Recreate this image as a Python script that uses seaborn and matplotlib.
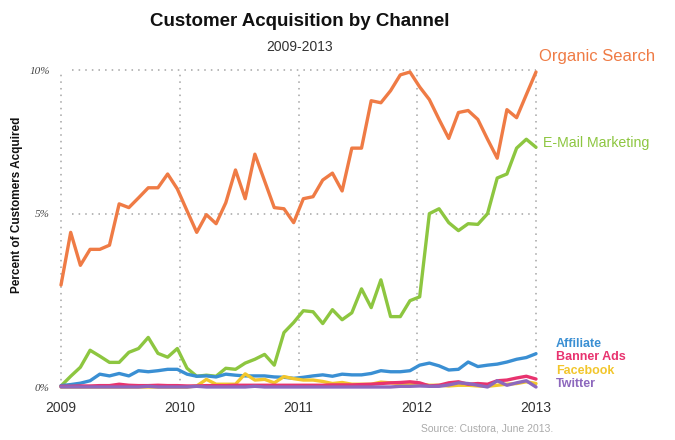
import numpy as np
import pandas as pd
import matplotlib
matplotlib.use("Agg")
import matplotlib.pyplot as plt
import seaborn as sns

sns.set_theme(style="white")
plt.rcParams['font.family'] = ['Liberation Sans', 'DejaVu Sans']

# data, 50 roughly monthly points from 2009 to 2013 (percent)
organic_search = [2.94, 4.46, 3.51, 3.97, 3.97, 4.09, 5.34, 5.21, 5.55, 5.90,
                  5.90, 6.38, 5.86, 5.10, 4.46, 4.97, 4.71, 5.38, 6.52, 5.52,
                  7.07, 6.14, 5.21, 5.17, 4.74, 5.52, 5.59, 6.17, 6.41, 5.79,
                  7.28, 7.28, 8.93, 8.86, 9.28, 9.83, 9.93, 9.41, 8.97, 8.28,
                  7.62, 8.52, 8.59, 8.28, 7.59, 6.93, 8.62, 8.34, 9.14, 9.93]
email_marketing = [0.03, 0.31, 0.57, 1.06, 0.89, 0.71, 0.71, 1.00, 1.11, 1.43,
                   0.97, 0.86, 1.11, 0.54, 0.31, 0.34, 0.31, 0.54, 0.51, 0.69,
                   0.80, 0.94, 0.63, 1.57, 1.86, 2.20, 2.17, 1.83, 2.23, 1.94,
                   2.14, 2.83, 2.29, 3.09, 2.03, 2.03, 2.49, 2.60, 5.00, 5.17,
                   4.74, 4.51, 4.71, 4.69, 5.00, 6.24, 6.38, 7.28, 7.59, 7.31]
affiliate = [0.04, 0.07, 0.11, 0.18, 0.37, 0.32, 0.39, 0.32, 0.47, 0.44,
             0.47, 0.51, 0.51, 0.37, 0.31, 0.32, 0.29, 0.37, 0.34, 0.32,
             0.32, 0.32, 0.29, 0.28, 0.25, 0.28, 0.32, 0.35, 0.31, 0.37,
             0.35, 0.35, 0.39, 0.47, 0.44, 0.44, 0.47, 0.63, 0.69, 0.61,
             0.49, 0.51, 0.72, 0.59, 0.63, 0.66, 0.72, 0.80, 0.85, 0.96]
banner_ads = [0.02, 0.02, 0.03, 0.03, 0.04, 0.04, 0.08, 0.05, 0.04, 0.04,
              0.05, 0.04, 0.04, 0.03, 0.03, 0.04, 0.04, 0.04, 0.05, 0.05,
              0.05, 0.05, 0.05, 0.05, 0.05, 0.05, 0.05, 0.05, 0.06, 0.06,
              0.06, 0.07, 0.08, 0.10, 0.12, 0.13, 0.15, 0.12, 0.03, 0.05,
              0.12, 0.15, 0.08, 0.10, 0.08, 0.18, 0.20, 0.26, 0.31, 0.23]
facebook = [0.00, 0.00, 0.00, 0.00, 0.00, 0.00, 0.00, 0.00, 0.00, 0.00,
            0.00, 0.00, 0.00, 0.00, 0.03, 0.22, 0.08, 0.08, 0.08, 0.38,
            0.20, 0.22, 0.12, 0.30, 0.24, 0.20, 0.20, 0.16, 0.10, 0.13,
            0.08, 0.08, 0.08, 0.14, 0.12, 0.10, 0.10, 0.08, 0.05, 0.05,
            0.03, 0.05, 0.05, 0.03, 0.02, 0.05, 0.08, 0.10, 0.15, 0.10]
twitter = [0.00, 0.00, 0.00, 0.00, 0.00, 0.00, 0.00, 0.00, 0.00, 0.02,
           0.00, 0.00, 0.00, 0.00, 0.02, 0.00, 0.00, 0.00, 0.00, 0.00,
           0.02, 0.00, 0.00, 0.00, 0.00, 0.00, 0.00, 0.00, 0.00, 0.00,
           0.00, 0.00, 0.00, 0.00, 0.00, 0.02, 0.02, 0.03, 0.02, 0.02,
           0.06, 0.12, 0.10, 0.05, 0.00, 0.18, 0.05, 0.12, 0.18, 0.00]

channels = ['Organic Search', 'E-Mail Marketing', 'Affiliate', 'Facebook', 'Banner Ads', 'Twitter']
colors = ['#ef7b45', '#8dc640', '#3a8fd3', '#f2c62c', '#e8336f', '#8d68bd']
year_ticks = [2009, 2010, 2011, 2012, 2013]
pct_ticks = [0, 5, 10]
pct_labels = ['0%', '5%', '10%']

# points are evenly spread between the first and last year tick
x = 2009 + np.arange(len(organic_search)) * 4 / (len(organic_search) - 1)
series = [organic_search, email_marketing, affiliate, facebook, banner_ads, twitter]
df = pd.concat([pd.DataFrame({'year': x, 'pct': s, 'channel': c}) for c, s in zip(channels, series)])

fig = plt.figure(figsize=(6.75, 4.4), dpi=100)
ax = fig.add_axes([61/675, 1 - 387/440, (536 - 61)/675, (387 - 70)/440])

# the original axis stretches 0-5% more than 5-10%
k = 175 / 145
def fwd(v):
    v = np.asarray(v, dtype=float)
    return np.where(v <= 5, v * k, 5 * k + (v - 5))
def inv(u):
    u = np.asarray(u, dtype=float)
    return np.where(u <= 5 * k, u / k, 5 + (u - 5 * k))
ax.set_yscale('function', functions=(fwd, inv))

# dotted grid
for yr in year_ticks:
    ax.plot([yr, yr], [0, 10], color='#b8b8b8', lw=1.4, ls=(0, (0.8, 2.6)), zorder=0, clip_on=False)
for p in [5, 10]:
    ax.plot([2009.09, 2013], [p, p], color='#b8b8b8', lw=1.4, ls=(0, (0.8, 2.6)), zorder=0, clip_on=False)

sns.lineplot(data=df, x='year', y='pct', hue='channel', hue_order=channels,
             palette=dict(zip(channels, colors)), linewidth=2.4, legend=False,
             ax=ax, sort=False)
for line in ax.lines:
    line.set_clip_on(False)
    line.set_solid_joinstyle('round')

ax.set_xlim(2009, 2013)
ax.set_ylim(0, 10)
sns.despine(ax=ax, left=True, bottom=True)
ax.set_xticks(year_ticks)
ax.set_xticklabels([str(y) for y in year_ticks], fontsize=10, color='#333333')
ax.set_yticks(pct_ticks)
ax.set_yticklabels(pct_labels, fontsize=8, color='#444444', style='italic', family='Liberation Serif')
ax.tick_params(axis='x', length=0, pad=10)
ax.tick_params(axis='y', length=0, pad=8)
ax.set_xlabel('')
ax.set_ylabel('')

fig.text(17/675, 1 - 205/440, 'Percent of Customers Acquired', rotation=90, ha='center', va='center',
         fontsize=8.5, fontweight='bold', color='#111111')
fig.text(300/675, 1 - 22/440, 'Customer Acquisition by Channel', ha='center', va='center',
         fontsize=13.5, fontweight='bold', color='#111111')
fig.text(300/675, 1 - 47/440, '2009-2013', ha='center', va='center', fontsize=10, color='#333333')

# direct labels
fig.text(539/675, 1 - 56/440, 'Organic Search', ha='left', va='center', fontsize=12, color=colors[0])
fig.text(543/675, 1 - 143/440, 'E-Mail Marketing', ha='left', va='center', fontsize=10.2, color=colors[1])
small = [('Affiliate', colors[2], 344), ('Banner Ads', colors[4], 357),
         ('Facebook', colors[3], 371), ('Twitter', colors[5], 384)]
for name, col, yy in small:
    fig.text(556/675, 1 - yy/440, name, ha='left', va='center', fontsize=9,
             fontweight='bold', color=col)

fig.text(553/675, 1 - 428/440, 'Source: Custora, June 2013.', ha='right', va='center',
         fontsize=7.5, color='#aaaaaa')

fig.savefig('out.png', dpi=100)
